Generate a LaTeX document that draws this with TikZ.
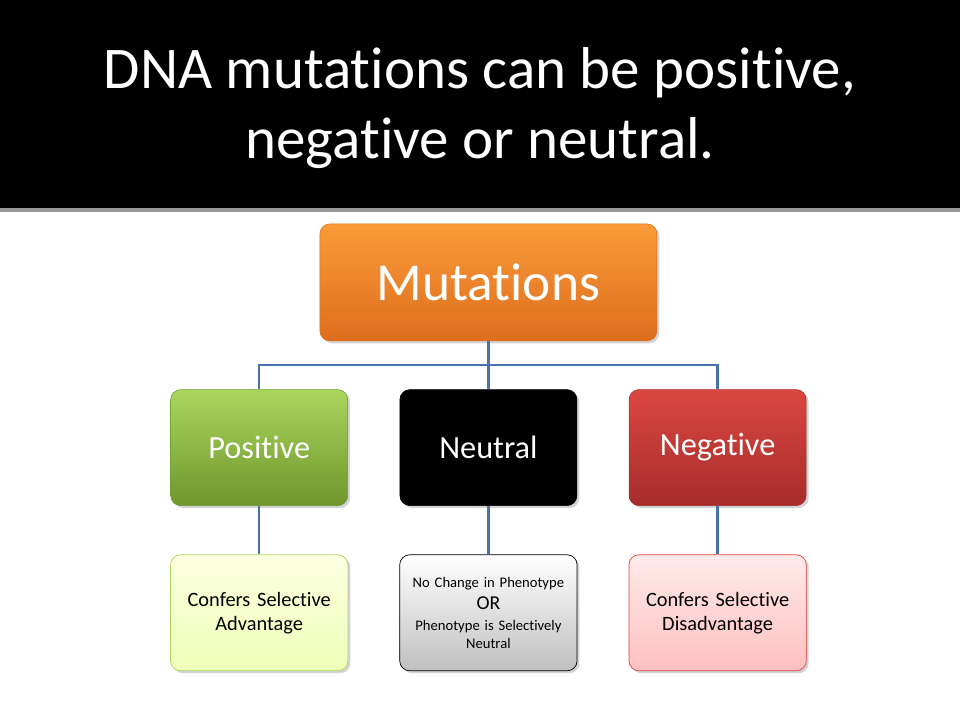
\documentclass[tikz,border=0pt]{standalone}
\usepackage{fontspec}
\setmainfont[Ligatures={NoCommon}]{Carlito}
\usetikzlibrary{calc,shadows}
\definecolor{linkblue}{HTML}{4674AA}
\definecolor{orangetop}{HTML}{FA9A3A}
\definecolor{orangebot}{HTML}{DD6E1C}
\definecolor{greentop}{HTML}{AAD65E}
\definecolor{greenbot}{HTML}{6E962C}
\definecolor{redtop}{HTML}{DB4741}
\definecolor{redbot}{HTML}{A62C2A}
\tikzset{
  box/.style={rectangle, rounded corners=0.25cm, minimum width=4.425cm, minimum height=2.9cm,
    align=center, drop shadow={opacity=0.35, shadow xshift=0.06cm, shadow yshift=-0.06cm}},
  topbox/.style={box, minimum width=8.425cm, minimum height=2.925cm, text=white, font=\fontsize{38}{44}\selectfont,
    top color=orangetop, bottom color=orangebot, draw=orangebot},
  kind/.style={box, text=white, font=\fontsize{23}{27}\selectfont},
  note/.style={box, text width=4.2cm, font=\fontsize{14.5}{17}\selectfont, drop shadow={opacity=0}, line width=0.5pt}
}
\begin{document}
\begin{tikzpicture}[
    level distance=4.13cm,
    sibling distance=5.73cm,
    edge from parent/.style={draw=linkblue, line width=1.6pt},
    edge from parent path={(\tikzparentnode.south) |- ($(\tikzparentnode.south)!0.5!(\tikzchildnode.north)$) -| (\tikzchildnode.north)}
  ]
  \useasboundingbox (0,0) rectangle (24,18);
  \fill[black!40] (0,12.7) rectangle (24,12.85);
  \fill[black] (0,12.8) rectangle (24,18);
  \node[text=white, font=\fontsize{42}{50}\selectfont, align=center] (title) at (12,15.3)
    {DNA mutations can be positive,\\negative or neutral.};

  \node[topbox] (mut) at (12.21,10.94) {Mutations}
    child {node[kind, top color=greentop, bottom color=greenbot, draw=greenbot] (pos) {Positive}
      child {node[note, top color=green!8!yellow!12, bottom color=green!22!yellow!28, draw=greentop] (posnote)
        {Confers Selective\\Advantage}}}
    child {node[kind, fill=black, draw=black] (neu) {Neutral}
      child {node[note, top color=white, bottom color=black!25, draw=black, font=\fontsize{10.4}{12.5}\selectfont] (neunote)
        {No Change in Phenotype\\[3pt]{\fontsize{14}{16}\selectfont OR}\\[3pt]Phenotype is Selectively\\Neutral}}}
    child {node[kind, top color=redtop, bottom color=redbot, draw=redbot] (neg) {Negative}
      child {node[note, top color=red!8, bottom color=red!25, draw=redtop] (negnote)
        {Confers Selective\\Disadvantage}}};
\end{tikzpicture}
\end{document}
